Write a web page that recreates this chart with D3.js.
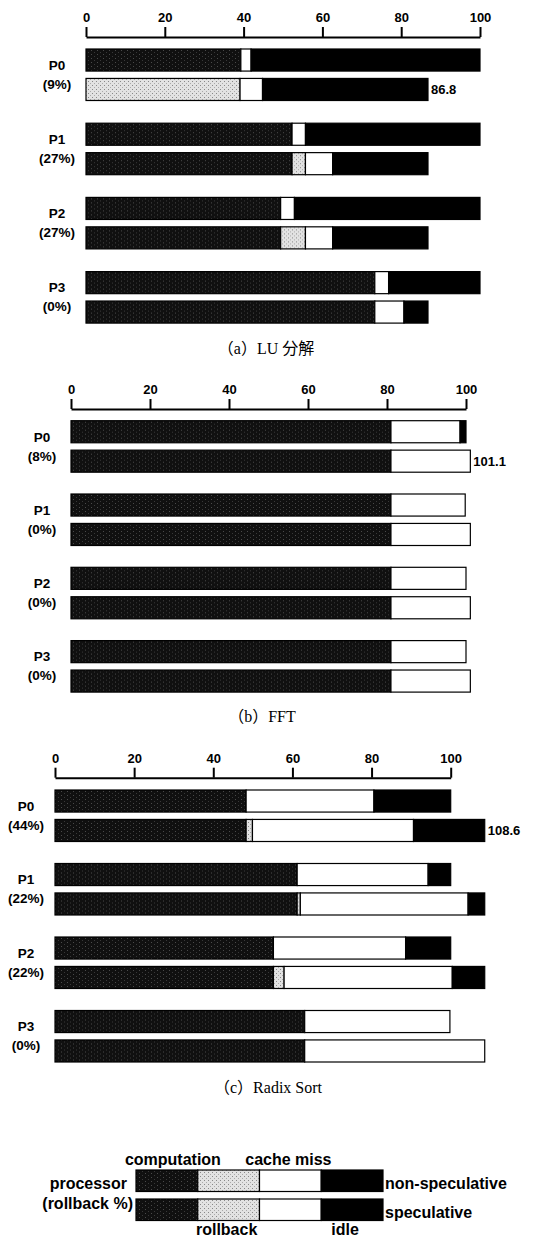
<!DOCTYPE html>
<html><head><meta charset="utf-8">
<script src="https://cdn.jsdelivr.net/npm/d3@7"></script>
<style>
html,body{margin:0;padding:0;background:#fff;}
svg{display:block;}
.lab{font-family:"Liberation Sans",Arial,sans-serif;font-weight:bold;}
.cap{font-family:"Liberation Serif","Noto Sans CJK JP",serif;}
</style>
</head><body>
<script>
// ---------------- DATA ----------------
const processors = ["P0", "P1", "P2", "P3"];
const segmentKeys = ["computation", "rollback", "cache miss", "idle"];
const tickValues = [0, 20, 40, 60, 80, 100];

// LU decomposition  [computation, rollback, cache miss, idle]
const luRollbackPct = [9, 27, 27, 0];
const luNonSpec = [[39.3, 0, 2.6, 58.1], [52.3, 0, 3.4, 44.3], [49.4, 0, 3.5, 47.1], [73.3, 0, 3.5, 23.2]];
const luSpec    = [[0, 39.1, 5.7, 42.0], [52.3, 3.4, 6.9, 24.2], [49.4, 6.3, 6.9, 24.2], [73.3, 0, 7.4, 6.1]];
const luTotalLabel = "86.8";

// FFT
const fftRollbackPct = [8, 0, 0, 0];
const fftNonSpec = [[81, 0, 17.5, 1.5], [81, 0, 18.8, 0], [81, 0, 19, 0], [81, 0, 19, 0]];
const fftSpec    = [[81, 0, 20.1, 0], [81, 0, 20.1, 0], [81, 0, 20.1, 0], [81, 0, 20.1, 0]];
const fftTotalLabel = "101.1";

// Radix Sort
const rsRollbackPct = [44, 22, 22, 0];
const rsNonSpec = [[48.3, 0, 32.3, 19.4], [61.2, 0, 33.1, 5.7], [55.2, 0, 33.4, 11.4], [63.1, 0, 36.7, 0]];
const rsSpec    = [[48.3, 1.6, 40.7, 18.0], [61.2, 0.8, 42.4, 4.2], [55.2, 2.7, 42.5, 8.2], [63.1, 0, 45.5, 0]];
const rsTotalLabel = "108.6";

const captions = ["（a）LU 分解", "（b）FFT", "（c）Radix Sort"];

// ---------------- LAYOUT ----------------
const W = 543, H = 1239;
const panels = [
  {cap: captions[0], pct: luRollbackPct, non: luNonSpec, spec: luSpec, total: luTotalLabel,
   x0: 86, x1: 480, axisY: 37, top: 49, step: 74.2, capY: 354, capX: 266},
  {cap: captions[1], pct: fftRollbackPct, non: fftNonSpec, spec: fftSpec, total: fftTotalLabel,
   x0: 71, x1: 466, axisY: 409, top: 420.7, step: 73.3, capY: 722, capX: 262},
  {cap: captions[2], pct: rsRollbackPct, non: rsNonSpec, spec: rsSpec, total: rsTotalLabel,
   x0: 55, x1: 450.7, axisY: 777.7, top: 790, step: 73.5, capY: 1093, capX: 268}
];

const svg = d3.select("body").append("svg").attr("width", W).attr("height", H);
const defs = svg.append("defs");

// textures
const pc = defs.append("pattern").attr("id", "pComp").attr("patternUnits", "userSpaceOnUse")
  .attr("width", 6).attr("height", 4);
pc.append("rect").attr("width", 6).attr("height", 4).attr("fill", "#101010");
pc.append("rect").attr("x", 1).attr("y", 1).attr("width", 1).attr("height", 1).attr("fill", "#4a4a4a");
pc.append("rect").attr("x", 4).attr("y", 3).attr("width", 1).attr("height", 1).attr("fill", "#383838");

const pr = defs.append("pattern").attr("id", "pRoll").attr("patternUnits", "userSpaceOnUse")
  .attr("width", 4).attr("height", 4);
pr.append("rect").attr("width", 4).attr("height", 4).attr("fill", "#e2e2e2");
pr.append("rect").attr("x", 0).attr("y", 0).attr("width", 1).attr("height", 1).attr("fill", "#888");
pr.append("rect").attr("x", 2).attr("y", 2).attr("width", 1).attr("height", 1).attr("fill", "#aaa");

const fills = d3.scaleOrdinal().domain(segmentKeys)
  .range(["url(#pComp)", "url(#pRoll)", "#ffffff", "#000000"]);

function stackRow(vals) {
  let acc = 0;
  return vals.map((v, i) => {
    const s = {key: segmentKeys[i], x0: acc, x1: acc + v};
    acc += v;
    return s;
  }).filter(s => s.x1 - s.x0 > 0);
}

panels.forEach(p => {
  const x = d3.scaleLinear().domain([0, 100]).range([p.x0, p.x1]);
  const yGroup = d3.scaleBand().domain(processors).range([p.top, p.top + 4 * p.step]).paddingInner(0);
  const yInner = d3.scaleBand().domain(["non", "spec"]).range([0, 51.5]).paddingInner(0.25);

  // axis
  const ax = svg.append("g").attr("transform", `translate(0,${p.axisY})`)
    .call(d3.axisTop(x).tickValues(tickValues).tickSize(10).tickSizeOuter(0).tickPadding(5));
  ax.select(".domain").attr("stroke", "#000").attr("stroke-width", 2);
  ax.selectAll(".tick line").attr("stroke", "#000").attr("stroke-width", 2);
  ax.selectAll(".tick text").attr("class", "lab").attr("font-size", 13).attr("fill", "#000");

  const labX = p.x0 - 29;
  processors.forEach((proc, i) => {
    const g = svg.append("g").attr("transform", `translate(0,${yGroup(proc)})`);
    [["non", p.non[i]], ["spec", p.spec[i]]].forEach(([kind, vals]) => {
      const segs = stackRow(vals);
      g.selectAll(null).data(segs).join("rect")
        .attr("x", d => x(d.x0)).attr("width", d => x(d.x1) - x(d.x0))
        .attr("y", yInner(kind)).attr("height", yInner.bandwidth())
        .attr("fill", d => fills(d.key))
        .attr("stroke", "#000").attr("stroke-width", 1.2);
    });
    // processor label
    g.append("text").attr("class", "lab").attr("x", labX).attr("y", 16).attr("dy", "0.36em")
      .attr("text-anchor", "middle").attr("font-size", 13.5).text(proc);
    g.append("text").attr("class", "lab").attr("x", labX).attr("y", 35).attr("dy", "0.36em")
      .attr("text-anchor", "middle").attr("font-size", 13.5).text(`(${p.pct[i]}%)`);
    if (i === 0) {
      const tot = d3.sum(p.spec[0]);
      g.append("text").attr("class", "lab").attr("x", x(tot) + 3)
        .attr("y", yInner("spec") + yInner.bandwidth() / 2).attr("dy", "0.36em")
        .attr("font-size", 13).text(p.total);
    }
  });

  svg.append("text").attr("class", "cap").attr("x", p.capX).attr("y", p.capY)
    .attr("text-anchor", "middle").attr("font-size", 16).text(p.cap);
});

// ---------------- LEGEND ----------------
const lx = d3.scaleBand().domain(segmentKeys).range([136, 383]).paddingInner(0);
const legRows = [{label: "non-speculative", y: 1170}, {label: "speculative", y: 1199}];
legRows.forEach(r => {
  svg.selectAll(null).data(segmentKeys).join("rect")
    .attr("x", d => lx(d)).attr("width", lx.bandwidth())
    .attr("y", r.y).attr("height", 21.5)
    .attr("fill", d => fills(d)).attr("stroke", "#000").attr("stroke-width", 1.2);
  svg.append("text").attr("class", "lab").attr("x", 385).attr("y", r.y + 13).attr("dy", "0.36em")
    .attr("font-size", 16).text(r.label);
});
const legLabels = [
  {key: "computation", y: 1159, dx: 6},
  {key: "cache miss", y: 1159, dx: -2},
  {key: "rollback", y: 1229, dx: -2},
  {key: "idle", y: 1229, dx: -7}
];
legLabels.forEach(l => {
  svg.append("text").attr("class", "lab").attr("x", lx(l.key) + lx.bandwidth() / 2 + l.dx)
    .attr("y", l.y).attr("dy", "0.36em").attr("text-anchor", "middle").attr("font-size", 16).text(l.key);
});
svg.append("text").attr("class", "lab").attr("x", 127).attr("y", 1183).attr("dy", "0.36em")
  .attr("text-anchor", "end").attr("font-size", 16).text("processor");
svg.append("text").attr("class", "lab").attr("x", 133).attr("y", 1203).attr("dy", "0.36em")
  .attr("text-anchor", "end").attr("font-size", 16).text("(rollback %)");
</script>
</body></html>
